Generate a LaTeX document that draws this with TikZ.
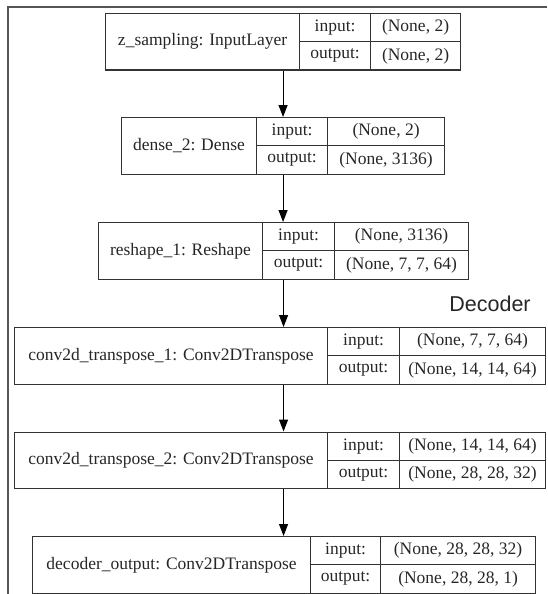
\documentclass[tikz,border=0pt]{standalone}
\usepackage{fontspec}
\setmainfont{Liberation Serif}
\newfontfamily\decfont{Liberation Sans}
\usetikzlibrary{arrows.meta}
\definecolor{framegray}{HTML}{555555}
\definecolor{linegray}{HTML}{333333}
\tikzset{
  outerbox/.style={draw=linegray, line width=1.1pt, inner sep=0pt, anchor=north west, minimum height=56.5pt},
  cell/.style={draw=linegray, line width=1.1pt, inner sep=0pt, anchor=north west, font=\fontsize{17.5}{20}\selectfont, text=black!85},
  arr/.style={draw=black, line width=1.1pt, -{Triangle[length=12pt,width=9pt]}},
  framel/.style={draw=framegray, line width=2pt},
}
\newcommand\klayer[9]{%
  \node[outerbox, minimum width={#6-#3}] (#1) at (#3,#2) {};
  \node[cell, minimum width={#4-#3}, minimum height=56.5pt] (#1n) at (#3,#2) {#7};
  \node[cell, minimum width={#5-#4}, minimum height=28.25pt] (#1il) at (#4,#2) {input:};
  \node[cell, minimum width={#5-#4}, minimum height=28.25pt] (#1ol) at (#4,{#2+28.25}) {output:};
  \node[cell, minimum width={#6-#5}, minimum height=28.25pt] (#1iv) at (#5,#2) {#8};
  \node[cell, minimum width={#6-#5}, minimum height=28.25pt] (#1ov) at (#5,{#2+28.25}) {#9};
}
\begin{document}
\begin{tikzpicture}[x=1pt,y=-1pt]
\useasboundingbox (0,0) rectangle (547,594);
\coordinate (ftr) at (547,7);
\coordinate (ftl) at (8,7);
\coordinate (fbl) at (8,594);
\draw[framel] (ftr) -- (ftl) -- (fbl);
\klayer{La}{13}{105}{299}{370}{460}{z\_sampling: InputLayer}{(None, 2)}{(None, 2)}
\klayer{Lb}{117}{121}{256}{327}{444}{dense\_2: Dense}{(None, 2)}{(None, 3136)}
\klayer{Lc}{222}{98}{262}{334}{468}{reshape\_1: Reshape}{(None, 3136)}{(None, 7, 7, 64)}
\klayer{Ld}{327}{14}{327}{399}{545}{conv2d\_transpose\_1: Conv2DTranspose}{(None, 7, 7, 64)}{(None, 14, 14, 64)}
\klayer{Le}{431.5}{14}{327}{399}{545}{conv2d\_transpose\_2: Conv2DTranspose}{(None, 14, 14, 64)}{(None, 28, 28, 32)}
\klayer{Lf}{536}{32}{310}{380}{535}{decoder\_output: Conv2DTranspose}{(None, 28, 28, 32)}{(None, 28, 28, 1)}
\node[anchor=base, font=\decfont\fontsize{21.5}{24}\selectfont, text=black!85, inner sep=0pt] (dec) at (490,311) {Decoder};
\draw[arr] (La.south) -- (La.south |- Lb.north);
\draw[arr] (Lb.south) -- (Lb.south |- Lc.north);
\draw[arr] (Lc.south) -- (Lc.south |- Ld.north);
\draw[arr] (Lc.south |- Ld.south) -- (Lc.south |- Le.north);
\draw[arr] (Lc.south |- Le.south) -- (Lc.south |- Lf.north);
\end{tikzpicture}
\end{document}
